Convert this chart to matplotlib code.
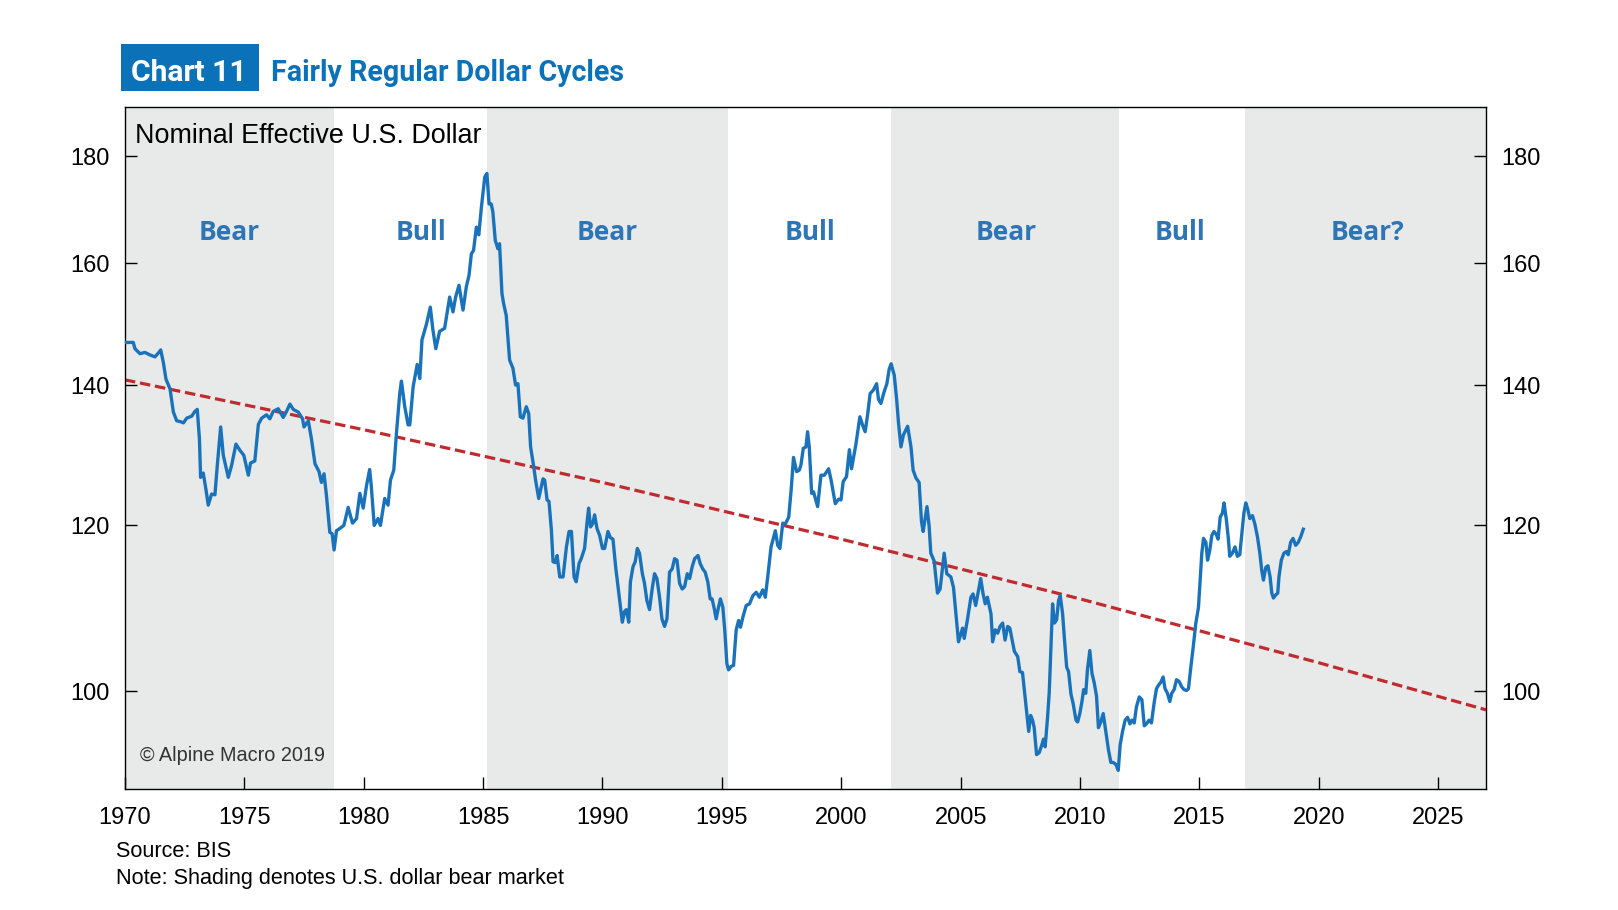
import numpy as np
import matplotlib
matplotlib.use('Agg')
import matplotlib.pyplot as plt
import matplotlib.patches as patches
import matplotlib.transforms as mtransforms

plt.rcParams['font.family'] = ['Liberation Sans', 'DejaVu Sans']

# Nominal effective US dollar (BIS)
years_70s = [1970.0, 1970.35, 1970.42, 1970.63, 1970.84, 1971.05, 1971.26, 1971.4, 1971.5, 1971.61,
             1971.72, 1971.89, 1972.03, 1972.17, 1972.31, 1972.45, 1972.59, 1972.8, 1972.93, 1973.03,
             1973.12, 1973.17, 1973.28, 1973.39, 1973.49, 1973.63, 1973.77, 1973.87, 1974.01, 1974.12,
             1974.33, 1974.47, 1974.65, 1974.82, 1974.98, 1975.17, 1975.26, 1975.44, 1975.59, 1975.73,
             1975.93, 1976.07, 1976.21, 1976.42, 1976.63, 1976.77, 1976.91, 1977.05, 1977.26, 1977.44,
             1977.5, 1977.68, 1977.81, 1977.96, 1978.13, 1978.23, 1978.34, 1978.44, 1978.58, 1978.68,
             1978.76, 1978.86, 1979.0, 1979.17]
usd_70s = [146.7, 146.7, 145.7, 144.9, 145.1, 144.7, 144.4, 145.0, 145.5, 143.5,
           140.9, 139.4, 135.9, 134.6, 134.5, 134.3, 135.0, 135.3, 136.0, 136.3,
           132.0, 126.5, 127.1, 124.9, 122.7, 124.2, 124.1, 128.2, 133.7, 129.6,
           126.5, 128.2, 131.2, 130.3, 129.6, 126.8, 128.5, 128.8, 134.1, 135.0,
           135.5, 134.9, 136.0, 136.4, 135.1, 136.0, 137.1, 136.3, 135.9, 134.9,
           133.7, 134.6, 132.0, 128.4, 127.3, 125.8, 127.0, 124.0, 119.1, 118.9,
           116.8, 119.3, 119.6, 120.0]

years_80s = [1979.35, 1979.53, 1979.7, 1979.84, 1979.98, 1980.12, 1980.25, 1980.32, 1980.44, 1980.6,
             1980.7, 1980.88, 1981.02, 1981.12, 1981.26, 1981.37, 1981.51, 1981.58, 1981.72, 1981.86,
             1981.93, 1982.07, 1982.24, 1982.35, 1982.44, 1982.63, 1982.79, 1982.9, 1983.02, 1983.18,
             1983.39, 1983.49, 1983.6, 1983.74, 1983.85, 1983.99, 1984.16, 1984.3, 1984.41, 1984.51,
             1984.6, 1984.72, 1984.82, 1984.93, 1985.07, 1985.16, 1985.25, 1985.34, 1985.41, 1985.51,
             1985.62, 1985.69, 1985.79, 1985.86, 1985.97, 1986.11, 1986.25, 1986.36, 1986.46, 1986.56,
             1986.67, 1986.81, 1986.91, 1986.99, 1987.12, 1987.2, 1987.33]
usd_80s = [122.4, 120.3, 120.9, 124.3, 122.3, 125.4, 127.6, 125.2, 120.0, 120.9,
           120.0, 123.6, 122.7, 126.1, 127.5, 132.7, 138.7, 140.6, 136.7, 134.0,
           134.0, 139.7, 143.2, 141.0, 147.1, 149.7, 152.5, 148.7, 145.7, 148.5,
           149.0, 151.4, 154.2, 151.7, 154.2, 156.2, 152.0, 156.0, 157.9, 161.7,
           162.3, 166.5, 165.1, 170.2, 175.9, 176.6, 170.8, 170.8, 169.3, 164.1,
           162.6, 163.5, 154.8, 153.1, 151.1, 143.9, 142.6, 140.0, 140.2, 135.2,
           135.0, 136.7, 135.7, 130.8, 128.0, 126.1, 123.6]

years_90s = [1987.51, 1987.58, 1987.68, 1987.76, 1987.86, 1987.93, 1988.03, 1988.1, 1988.21, 1988.35,
             1988.49, 1988.6, 1988.7, 1988.81, 1988.9, 1989.02, 1989.11, 1989.25, 1989.35, 1989.42,
             1989.5, 1989.6, 1989.67, 1989.77, 1989.88, 1990.0, 1990.09, 1990.23, 1990.33, 1990.44,
             1990.55, 1990.65, 1990.75, 1990.83, 1990.93, 1991.0, 1991.1, 1991.17, 1991.28, 1991.37,
             1991.46, 1991.55, 1991.67, 1991.76, 1991.86, 1991.97, 1992.08, 1992.18, 1992.28, 1992.39,
             1992.49, 1992.6, 1992.7, 1992.81, 1992.92, 1993.02, 1993.12, 1993.23, 1993.34, 1993.44,
             1993.55, 1993.65, 1993.76, 1993.86, 1994.0, 1994.09, 1994.2, 1994.3, 1994.41, 1994.51,
             1994.59, 1994.69, 1994.76, 1994.86, 1994.94, 1995.04, 1995.12, 1995.21, 1995.28, 1995.39,
             1995.49, 1995.6, 1995.7, 1995.78, 1995.88, 1996.02, 1996.16, 1996.3, 1996.44]
usd_90s = [126.3, 126.1, 123.4, 123.2, 119.4, 115.3, 115.2, 116.1, 113.4, 113.4,
           117.2, 119.2, 119.2, 113.4, 112.8, 115.1, 115.7, 117.0, 120.3, 122.3,
           119.8, 120.3, 121.4, 119.6, 118.7, 117.0, 117.0, 119.2, 118.4, 118.2,
           114.7, 112.2, 109.7, 107.9, 109.2, 109.4, 107.9, 112.8, 114.7, 115.3,
           117.0, 116.4, 113.8, 112.6, 110.5, 109.4, 111.9, 113.8, 113.2, 110.9,
           108.3, 107.4, 108.3, 114.0, 114.4, 115.7, 115.5, 112.6, 111.9, 112.2,
           113.8, 113.2, 114.7, 115.7, 116.1, 115.1, 114.4, 114.0, 112.8, 110.7,
           110.7, 109.4, 108.3, 109.7, 110.7, 109.7, 107.0, 103.1, 102.4, 102.8,
           102.9, 107.0, 108.1, 107.3, 108.5, 109.9, 110.1, 111.1, 111.5]

years_00s = [1996.57, 1996.71, 1996.82, 1996.92, 1997.06, 1997.24, 1997.34, 1997.43, 1997.55, 1997.66,
             1997.8, 1997.9, 1998.0, 1998.13, 1998.24, 1998.31, 1998.41, 1998.52, 1998.59, 1998.66,
             1998.76, 1998.84, 1999.01, 1999.15, 1999.29, 1999.47, 1999.57, 1999.75, 1999.89, 1999.99,
             2000.08, 2000.22, 2000.34, 2000.43, 2000.61, 2000.78, 2000.89, 2001.0, 2001.1, 2001.21,
             2001.34, 2001.48, 2001.56, 2001.66, 2001.8, 2001.91, 2002.01, 2002.09, 2002.22, 2002.32,
             2002.4, 2002.5, 2002.6, 2002.78, 2002.92, 2003.01, 2003.13, 2003.26, 2003.36, 2003.43,
             2003.59, 2003.68, 2003.75, 2003.89, 2004.03, 2004.14, 2004.31, 2004.42, 2004.59, 2004.7,
             2004.8, 2004.91, 2005.08, 2005.15, 2005.29, 2005.43, 2005.52, 2005.63, 2005.75, 2005.84,
             2005.94, 2006.03, 2006.12]
usd_00s = [110.9, 111.8, 110.9, 113.4, 117.2, 119.3, 117.4, 117.0, 120.3, 120.2,
           121.1, 124.7, 129.3, 127.3, 127.5, 128.2, 130.6, 130.8, 133.0, 130.8,
           124.3, 124.5, 122.5, 126.8, 126.8, 127.7, 126.2, 122.9, 123.5, 123.4,
           125.9, 126.6, 130.4, 127.7, 131.1, 135.2, 134.0, 133.0, 135.4, 138.7,
           139.2, 140.2, 137.8, 137.2, 139.0, 140.2, 142.5, 143.3, 141.5, 137.8,
           134.2, 130.8, 132.5, 133.8, 130.8, 127.5, 126.4, 125.8, 120.5, 119.2,
           122.5, 119.9, 116.4, 115.4, 111.4, 111.9, 116.4, 113.8, 113.4, 112.1,
           108.9, 105.6, 107.2, 106.0, 108.3, 110.9, 111.3, 109.9, 111.8, 113.2,
           111.3, 110.1, 110.9]

years_10s = [2006.27, 2006.34, 2006.45, 2006.55, 2006.65, 2006.76, 2006.86, 2006.97, 2007.06, 2007.18,
             2007.25, 2007.39, 2007.48, 2007.59, 2007.71, 2007.78, 2007.85, 2007.93, 2008.01, 2008.08,
             2008.18, 2008.29, 2008.4, 2008.47, 2008.54, 2008.64, 2008.71, 2008.78, 2008.85, 2008.93,
             2009.02, 2009.1, 2009.17, 2009.27, 2009.35, 2009.44, 2009.52, 2009.62, 2009.71, 2009.83,
             2009.9, 2009.99, 2010.08, 2010.15, 2010.24, 2010.31, 2010.41, 2010.5, 2010.59, 2010.69,
             2010.77, 2010.87, 2010.97, 2011.08, 2011.19, 2011.29, 2011.39, 2011.5, 2011.6, 2011.68,
             2011.78, 2011.89, 2011.99, 2012.09, 2012.17, 2012.27, 2012.36, 2012.48, 2012.59, 2012.69,
             2012.78, 2012.89, 2012.99, 2013.1, 2013.2, 2013.29, 2013.38, 2013.48, 2013.56, 2013.66,
             2013.76, 2013.84, 2013.94, 2014.04, 2014.15, 2014.26, 2014.36, 2014.46, 2014.54, 2014.64,
             2014.74, 2014.85, 2014.96, 2015.03, 2015.1, 2015.17, 2015.27, 2015.34, 2015.43, 2015.52,
             2015.61, 2015.71, 2015.78, 2015.87, 2015.96, 2016.03, 2016.13, 2016.21, 2016.27, 2016.38,
             2016.49, 2016.59, 2016.69, 2016.77, 2016.86, 2016.94, 2017.02, 2017.11, 2017.22, 2017.32,
             2017.43, 2017.53, 2017.61, 2017.68, 2017.78, 2017.87, 2017.96, 2018.03, 2018.1, 2018.2,
             2018.28, 2018.33, 2018.43, 2018.54, 2018.64, 2018.72, 2018.82, 2018.92, 2019.03, 2019.14,
             2019.24, 2019.35]
usd_10s = [108.9, 105.6, 107.0, 106.6, 107.4, 107.8, 105.8, 107.4, 107.2, 105.5,
           104.5, 103.9, 102.2, 102.1, 99.1, 97.4, 95.7, 97.4, 96.9, 96.1,
           93.3, 93.5, 94.3, 94.9, 94.1, 97.2, 99.9, 105.0, 110.1, 107.8,
           108.2, 110.5, 111.1, 108.9, 105.8, 102.7, 102.2, 99.7, 98.7, 96.9,
           96.7, 97.6, 98.9, 100.2, 99.8, 102.4, 104.6, 102.0, 101.0, 99.5,
           96.1, 96.7, 97.6, 95.7, 93.8, 92.5, 92.5, 92.3, 91.7, 94.3,
           95.7, 96.9, 97.2, 96.5, 96.9, 96.6, 98.3, 99.4, 99.1, 96.3,
           96.5, 96.9, 96.6, 98.7, 100.3, 100.7, 101.0, 101.6, 100.3, 99.8,
           98.9, 99.8, 100.2, 101.3, 101.1, 100.5, 100.2, 100.1, 100.3, 102.7,
           105.0, 107.8, 109.7, 113.0, 116.4, 118.3, 117.8, 115.5, 116.7, 118.7,
           119.2, 118.8, 118.2, 121.1, 121.6, 123.0, 120.7, 118.3, 116.0, 116.4,
           117.2, 116.0, 116.2, 118.7, 121.6, 123.0, 122.2, 120.9, 121.3, 120.2,
           118.5, 116.4, 114.2, 113.0, 114.6, 114.8, 113.4, 111.4, 110.8, 111.2,
           111.4, 113.4, 115.5, 116.4, 116.6, 116.2, 117.8, 118.3, 117.4, 117.8,
           118.5, 119.5]

# long-run trend (dashed red)
trend_years = [1970, 1980, 1990, 2000, 2010, 2020, 2027]
trend_vals = [140.8, 133.3, 125.8, 118.2, 110.7, 103.2, 98.0]

# bear markets (shaded) and cycle labels
bear_starts = [1970.0, 1985.16, 2002.08, 2016.89]
bear_ends = [1978.77, 1995.26, 2011.62, 2027.0]
cycle_labels = ['Bear', 'Bull', 'Bear', 'Bull', 'Bear', 'Bull', 'Bear?']
cycle_label_x = [1974.35, 1982.4, 1990.2, 1998.7, 2006.9, 2014.2, 2022.05]

year_ticks = list(range(1970, 2030, 5))
usd_ticks = [100, 120, 140, 160, 180]

years = years_70s + years_80s + years_90s + years_00s + years_10s
usd = usd_70s + usd_80s + usd_90s + usd_00s + usd_10s

blue = '#1a73ba'
fig = plt.figure(figsize=(16.18, 9.10), dpi=100)
ax = fig.add_axes([0.0772, 0.1325, 0.8412, 0.7495])

for s, e in zip(bear_starts, bear_ends):
    ax.axvspan(s, e, color='#e8eaea', lw=0, zorder=0)

ax.plot(trend_years, trend_vals, color='#bf2b2e', lw=2.3, dashes=(3.3, 1.5), zorder=2)
ax.plot(years, usd, color=blue, lw=2.4, zorder=3, solid_joinstyle='round')

ax.set_yscale('log')
ax.set_xlim(1970, 2027)
ax.set_ylim(89.8, 189.9)
ax.set_yticks(usd_ticks)
ax.set_yticklabels([str(t) for t in usd_ticks])
ax.yaxis.set_minor_locator(plt.NullLocator())
ax.set_xticks(year_ticks)
ax.set_xticklabels([str(t) for t in year_ticks])

ax.tick_params(axis='y', which='major', direction='in', length=8.6, width=1,
               left=True, right=True, labelleft=True, labelright=True,
               labelsize=17, pad=11)
ax.tick_params(axis='x', direction='in', length=8.6, width=1, labelsize=17, pad=12.5)
for sp in ax.spines.values():
    sp.set_linewidth(1)

# cycle labels
trans = mtransforms.blended_transform_factory(ax.transData, ax.transAxes)
for xc, lab in zip(cycle_label_x, cycle_labels):
    ax.text(xc, 0.805, lab, transform=trans, ha='center', va='baseline',
            fontsize=19, fontweight='bold', color='#2e75b6',
            family=['Open Sans', 'DejaVu Sans'])

ax.text(0.0076, 0.9485, 'Nominal Effective U.S. Dollar', transform=ax.transAxes,
        fontsize=19.4, va='baseline', ha='left', color='black')
ax.text(0.0113, 0.0424, '\u00a9 Alpine Macro 2019', transform=ax.transAxes,
        fontsize=14.3, va='baseline', ha='left', color='#333333')

# header
fig.patches.append(patches.Rectangle((0.0746, 0.9002), 0.0855, 0.051,
                                     transform=fig.transFigure, color='#0b72ba', lw=0))
fig.text(0.1164, 0.9115, 'Chart 11', ha='center', va='baseline', color='white',
         fontsize=21.6, fontweight='bold', family=['Roboto', 'DejaVu Sans'])
fig.text(0.1675, 0.9115, 'Fairly Regular Dollar Cycles', ha='left', va='baseline',
         color='#0b72ba', fontsize=20.6, fontweight='bold',
         family=['Roboto', 'DejaVu Sans'])

fig.text(0.0714, 0.0577, 'Source: BIS', fontsize=15.6, va='baseline')
fig.text(0.0714, 0.0282, 'Note: Shading denotes U.S. dollar bear market', fontsize=15.6, va='baseline')

fig.savefig('out.png', dpi=100)
